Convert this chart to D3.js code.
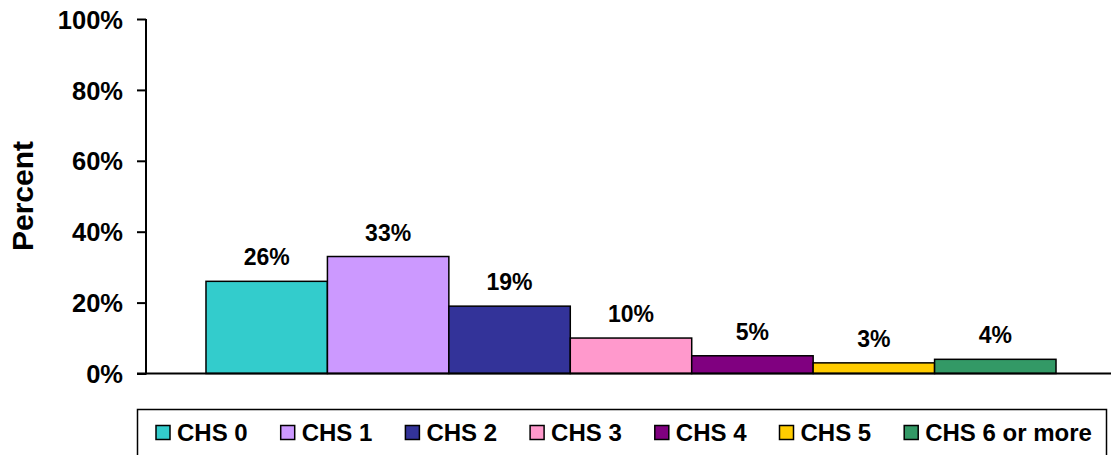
<!DOCTYPE html>
<html lang="en">
<head>
    <style>
        body { margin: 0; background: #fff; }
        text { font-family: "Liberation Sans", Arial, sans-serif; font-weight: bold; fill: #000; }
    </style>
    <script src="https://d3js.org/d3.v7.min.js"></script>
</head>
<body>
    <svg width="1111" height="455"></svg>
    <script>
        var categories = ["CHS 0", "CHS 1", "CHS 2", "CHS 3", "CHS 4", "CHS 5", "CHS 6 or more"];
        var values = [0.26, 0.33, 0.19, 0.10, 0.05, 0.03, 0.04];
        var colors = ["#33CCCC", "#CC99FF", "#333399", "#FF99CC", "#800080", "#FFCC00", "#339966"];
        var yTicks = [0, 0.2, 0.4, 0.6, 0.8, 1];

        var svg = d3.select("svg");

        var plotLeft = 146, plotRight = 1116, plotTop = 19, plotBottom = 373.5;

        var x = d3.scaleBand()
            .domain(categories)
            .range([plotLeft, plotRight])
            .paddingInner(0)
            .paddingOuter(0.494);

        var y = d3.scaleLinear()
            .domain([0, 1])
            .range([plotBottom, plotTop]);

        // bars
        svg.selectAll(".bar")
            .data(categories)
            .enter().append("rect")
            .attr("class", "bar")
            .attr("x", function(d) { return x(d); })
            .attr("y", function(d, i) { return y(values[i]); })
            .attr("width", x.bandwidth())
            .attr("height", function(d, i) { return plotBottom - y(values[i]); })
            .attr("fill", function(d, i) { return colors[i]; })
            .attr("stroke", "#000")
            .attr("stroke-width", 1.5);

        // value labels
        svg.selectAll(".val")
            .data(categories)
            .enter().append("text")
            .attr("class", "val")
            .attr("x", function(d) { return x(d) + x.bandwidth() / 2; })
            .attr("y", function(d, i) { return y(values[i]) - 16; })
            .attr("text-anchor", "middle")
            .attr("font-size", "23px")
            .text(function(d, i) { return Math.round(values[i] * 100) + "%"; });

        // y axis
        var yAxis = svg.append("g")
            .attr("transform", "translate(" + plotLeft + ",0)")
            .call(d3.axisLeft(y).tickValues(yTicks).tickSize(9).tickPadding(14)
                .tickFormat(d3.format(".0%")));
        yAxis.select(".domain").attr("stroke-width", 2).attr("d", "M0," + plotTop + "V" + (plotBottom + 1));
        yAxis.selectAll(".tick line").attr("stroke-width", 2);
        yAxis.selectAll(".tick text")
            .attr("font-size", "25.5px")
            .attr("font-family", "'Liberation Sans', Arial, sans-serif")
            .attr("font-weight", "bold")
            .attr("dy", "0.36em");

        // x axis line
        svg.append("line")
            .attr("x1", plotLeft - 9).attr("x2", plotRight)
            .attr("y1", plotBottom).attr("y2", plotBottom)
            .attr("stroke", "#000")
            .attr("stroke-width", 2);

        // y title
        svg.append("text")
            .attr("transform", "translate(33,196) rotate(-90)")
            .attr("text-anchor", "middle")
            .attr("font-size", "30px")
            .text("Percent");

        // legend
        var legend = svg.append("g");
        legend.append("rect")
            .attr("x", 137.5).attr("y", 409.5)
            .attr("width", 969).attr("height", 60)
            .attr("fill", "none")
            .attr("stroke", "#000")
            .attr("stroke-width", 1.5);

        var item = legend.selectAll(".item")
            .data(categories)
            .enter().append("g")
            .attr("class", "item")
            .attr("transform", function(d, i) { return "translate(" + (156 + i * 124.7) + ",0)"; });

        item.append("rect")
            .attr("x", 0).attr("y", 425.5)
            .attr("width", 14).attr("height", 14)
            .attr("fill", function(d, i) { return colors[i]; })
            .attr("stroke", "#000")
            .attr("stroke-width", 1.5);

        item.append("text")
            .attr("x", 21)
            .attr("y", 441)
            .attr("font-size", "24px")
            .text(function(d) { return d; });
    </script>
</body>
</html>
